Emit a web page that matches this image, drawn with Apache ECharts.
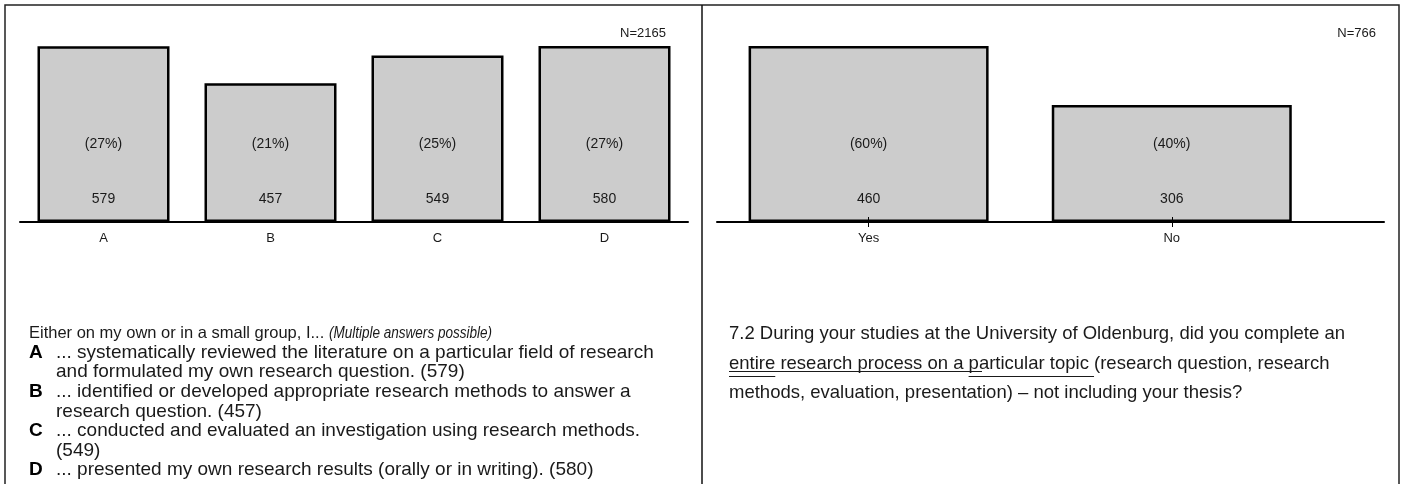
<!DOCTYPE html>
<html>
<head>
<meta charset="utf-8">
<script src="https://cdn.jsdelivr.net/npm/echarts@6/dist/echarts.min.js"></script>
<style>
  html, body { margin: 0; padding: 0; background: #fff; }
  #chart { width: 1401px; height: 484px; }
</style>
</head>
<body>
<div id="chart"></div>
<script>
// left panel: research activities (multiple answers)
const skillCats = ['A', 'B', 'C', 'D'];
const skillCounts = [579, 457, 549, 580];
// right panel: complete research process yes/no
const thesisCats = ['Yes', 'No'];
const thesisCounts = [460, 306];

const introText = 'Either on my own or in a small group, I... ';
const introNote = '(Multiple answers possible)';
const itemTexts = [
  ['... systematically reviewed the literature on a particular field of research', 'and formulated my own research question. (579)'],
  ['... identified or developed appropriate research methods to answer a', 'research question. (457)'],
  ['... conducted and evaluated an investigation using research methods.', '(549)'],
  ['... presented my own research results (orally or in writing). (580)']
];
const questionLines = [
  '7.2 During your studies at the University of Oldenburg, did you complete an',
  'entire research process on a particular topic (research question, research',
  'methods, evaluation, presentation) \u2013 not including your thesis?'
];

const FONT = 'Liberation Sans, Arial, sans-serif';
const INK = '#1a1a1a';
const ITEM_TXT = '19px ' + FONT;
const Q_TXT = '18.5px ' + FONT;
const INTRO_TXT = '16.5px ' + FONT;
const sum = arr => arr.reduce((s, v) => s + v, 0);
const skillTotal = sum(skillCounts);
const thesisTotal = sum(thesisCounts);
const pct = (v, t) => '(' + Math.round(v / t * 100) + '%)';

// text width helper for underlines / inline pieces
const mctx = document.createElement('canvas').getContext('2d');
function tw(t, f) { mctx.font = f; return mctx.measureText(t).width; }

const chart = echarts.init(document.getElementById('chart'), null, { renderer: 'canvas' });

const barStyle = { color: '#cccccc', borderColor: '#000', borderWidth: 2.5 };
const labelBase = { show: true, position: 'insideBottom', color: INK, fontSize: 14, fontFamily: FONT };

function barPair(xi, data, total, getV, w) {
  return [
    {
      type: 'bar', xAxisIndex: xi, yAxisIndex: xi / 2, data: data, barWidth: w, barGap: '-100%',
      itemStyle: barStyle, silent: true,
      label: Object.assign({}, labelBase, { distance: 16, formatter: p => getV(p.value) })
    },
    {
      type: 'bar', xAxisIndex: xi, yAxisIndex: xi / 2, data: data, barWidth: w, barGap: '-100%',
      itemStyle: { color: 'transparent' }, silent: true,
      label: Object.assign({}, labelBase, { distance: 71, formatter: p => pct(getV(p.value), total) })
    }
  ];
}

const axisLbl = { color: INK, fontSize: 13, fontFamily: FONT, margin: 10 };

const textEl = (x, y, text, font, extra) => Object.assign({
  type: 'text', x: x, y: y, silent: true,
  style: { text: text, fill: INK, font: font, verticalAlign: 'middle' }
}, extra || {});
const hline = (x1, x2, y) => ({
  type: 'line', silent: true, shape: { x1: x1, y1: y, x2: x2, y2: y }, style: { stroke: INK, lineWidth: 1 }
});

const graphics = [
  { type: 'rect', silent: true, shape: { x: 5, y: 5, width: 1394, height: 500 }, style: { fill: 'none', stroke: '#222', lineWidth: 1.5 } },
  { type: 'line', silent: true, shape: { x1: 702, y1: 5, x2: 702, y2: 484 }, style: { stroke: '#111', lineWidth: 1.5 } }
];
const nLabel = (x, t) => {
  const el = textEl(x, 33, t, '13px ' + FONT);
  el.style.align = 'right';
  return el;
};
graphics.push(nLabel(666, 'N=' + skillTotal), nLabel(1376, 'N=' + thesisTotal));

// left legend block: intro line (narrow italic note), then answer key A-D with hanging indent
const LEFT_TOP = 333;
const LEFT_LH = 19.6;
const IND = 56;
graphics.push(textEl(29, LEFT_TOP, introText, INTRO_TXT));
graphics.push(textEl(29 + tw(introText, INTRO_TXT), LEFT_TOP, introNote, 'italic ' + INTRO_TXT, { scaleX: 0.82 }));
let row = 1;
itemTexts.forEach((lines, i) => {
  const lbl = textEl(29, LEFT_TOP + row * LEFT_LH, skillCats[i], 'bold ' + ITEM_TXT);
  lbl.style.fill = '#000';
  graphics.push(lbl);
  lines.forEach(l => {
    graphics.push(textEl(IND, LEFT_TOP + row * LEFT_LH, l, ITEM_TXT));
    row++;
  });
});

// question text on the right, with the underlined words
const QX = 729;
const Q_TOP = 334;
const Q_LH = 29.5;
questionLines.forEach((l, i) => graphics.push(textEl(QX, Q_TOP + i * Q_LH, l, Q_TXT)));
const l2 = Q_TOP + Q_LH;
const ptStart = QX + tw('entire research process on a ', Q_TXT);
graphics.push(hline(QX, QX + tw('entire', Q_TXT), l2 + 13));
graphics.push(hline(ptStart, ptStart + tw('particular topic ', Q_TXT), l2 + 13));
graphics.push(hline(QX, QX + tw('methods, evaluation, presentat', Q_TXT), l2 + 8));

const option = {
  animation: false,
  backgroundColor: '#fff',
  textStyle: { fontFamily: FONT },
  grid: [
    { left: 20, right: 713, top: 46, bottom: 262 },
    { left: 717, right: 17, top: 46, bottom: 262 }
  ],
  xAxis: [
    {
      type: 'category', gridIndex: 0, data: skillCats, position: 'bottom', z: 10,
      axisLine: { lineStyle: { color: '#000', width: 2 } },
      axisTick: { alignWithLabel: true, length: 5, lineStyle: { color: '#000' } },
      axisLabel: axisLbl
    },
    {
      type: 'category', gridIndex: 0, data: skillCats, position: 'bottom', z: 10,
      axisLine: { show: false },
      axisTick: { alignWithLabel: true, inside: true, length: 5, lineStyle: { color: '#000' } },
      axisLabel: { show: false }
    },
    {
      type: 'value', gridIndex: 1, min: -0.5, max: 1.7, position: 'bottom', z: 10,
      splitLine: { show: false },
      axisLine: { show: true, lineStyle: { color: '#000', width: 2 } },
      axisTick: { show: true, length: 5, customValues: [0, 1], lineStyle: { color: '#000' } },
      axisLabel: Object.assign({}, axisLbl, { customValues: [0, 1], formatter: v => thesisCats[v] })
    },
    {
      type: 'value', gridIndex: 1, min: -0.5, max: 1.7, position: 'bottom', z: 10,
      splitLine: { show: false },
      axisLine: { show: false },
      axisTick: { show: true, inside: true, length: 5, customValues: [0, 1], lineStyle: { color: '#000' } },
      axisLabel: { show: false }
    }
  ],
  yAxis: [
    { type: 'value', gridIndex: 0, min: 0, max: Math.max(...skillCounts), show: false },
    { type: 'value', gridIndex: 1, min: 0, max: Math.max(...thesisCounts), show: false }
  ],
  series: [
    ...barPair(0, skillCounts, skillTotal, v => v, 132),
    ...barPair(2, thesisCounts.map((v, i) => [i, v]), thesisTotal, v => v[1], 240)
  ],
  graphic: graphics
};

chart.setOption(option);
</script>
</body>
</html>
